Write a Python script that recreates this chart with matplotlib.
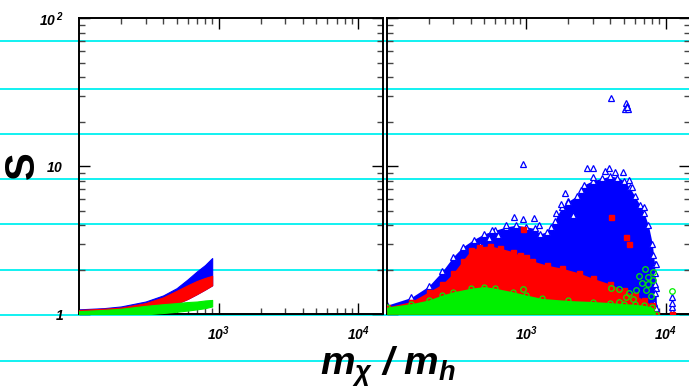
import matplotlib
matplotlib.use("Agg")
import matplotlib.pyplot as plt
from matplotlib.lines import Line2D
from matplotlib.ticker import FixedLocator, NullFormatter

plt.rcParams['font.family'] = ['Liberation Sans', 'DejaVu Sans']
plt.rcParams['mathtext.fontset'] = 'custom'
plt.rcParams['mathtext.rm'] = 'Liberation Sans:bold:italic'
plt.rcParams['mathtext.it'] = 'Liberation Sans:bold:italic'
plt.rcParams['mathtext.bf'] = 'Liberation Sans:bold:italic'

# ---------------- data: left panel (dense bands) ----------------
left_x = [100, 150, 200, 300, 400, 500, 600, 700, 800, 900]
left_blue_top = [1.08, 1.10, 1.13, 1.22, 1.34, 1.50, 1.72, 1.95, 2.15, 2.40]
left_red_top = [1.07, 1.09, 1.11, 1.19, 1.30, 1.44, 1.57, 1.68, 1.76, 1.82]
left_red_bottom = [1.0, 1.0, 1.0, 1.0, 1.05, 1.18, 1.27, 1.37, 1.47, 1.57]
left_green_top = [1.05, 1.07, 1.09, 1.14, 1.17, 1.19, 1.21, 1.22, 1.24, 1.25]
left_green_bottom = [1.0, 1.0, 1.0, 1.0, 1.02, 1.04, 1.06, 1.08, 1.10, 1.13]

# ---------------- data: right panel (dense clouds + edges) ----------------
blue_x = [100, 150, 200, 250, 300, 350, 420, 500, 600, 720, 850, 1000, 1150,
          1250, 1400, 1600, 1800, 2000, 2300, 2600, 3000, 3500, 4000, 4500,
          5000, 5500, 6000, 6500, 7000, 7500, 8000, 8300, 8500, 8600]
blue_top = [1.15, 1.3, 1.55, 1.95, 2.45, 2.85, 3.2, 3.5, 3.7, 3.9, 4.0, 3.9,
            3.8, 3.5, 3.6, 4.3, 5.3, 5.8, 6.3, 7.5, 8.0, 8.3, 8.6, 8.4, 8.0,
            7.2, 6.3, 5.5, 4.8, 4.0, 3.0, 2.2, 1.5, 1.0]

red_x = [100, 150, 200, 250, 300, 350, 400, 460, 550, 650, 800, 900, 1000,
         1100, 1400, 1800, 2400, 3000, 4000, 5000, 6000, 7000, 8000, 8500]
red_top = [1.12, 1.22, 1.42, 1.6, 1.9, 2.3, 2.7, 2.86, 2.9, 2.8, 2.65, 2.5,
           2.45, 2.3, 2.15, 2.05, 1.9, 1.75, 1.6, 1.45, 1.35, 1.25, 1.15, 1.0]

green_x = [100, 150, 200, 250, 300, 400, 500, 600, 800, 1000, 1300, 2000,
           3000, 4000, 5000, 6000, 7000, 8000, 8500]
green_top = [1.12, 1.18, 1.25, 1.35, 1.42, 1.5, 1.54, 1.5, 1.42, 1.35, 1.28,
             1.24, 1.22, 1.2, 1.18, 1.17, 1.15, 1.12, 1.0]

# individual blue triangles (edge of cloud and outliers)
tri_x = [240, 291, 352, 416, 464, 540, 570, 625, 710, 815, 955, 1140, 1240,
         1510, 1640, 1780, 1880, 1980, 2150, 2470, 2710, 3000, 3030, 3680,
         3930, 4330, 4940, 5450, 5760, 7000,
         955, 4050, 5200, 5300, 5100, 5400, 5250,
         8200, 8300, 8400, 8300, 8500, 8100, 8450,
         11100, 11100, 11100, 11100]
tri_y = [1.5, 1.75, 2.27, 2.65, 2.94, 3.3, 3.7, 3.43, 4.0, 4.57, 4.4, 4.5,
         4.0, 3.9, 4.8, 5.6, 6.56, 5.77, 4.7, 6.9, 9.8, 8.5, 9.8, 9.35,
         9.7, 9.2, 9.2, 8.1, 7.3, 5.3,
         10.4, 28.8, 26.8, 25.5, 24.5, 24.3, 25.0,
         1.2, 1.4, 1.6, 1.9, 2.2, 2.5, 1.1,
         1.05, 1.12, 1.2, 1.3]

# individual red squares
sq_x = [955, 4050, 5180, 5450, 11100]
sq_y = [3.75, 4.52, 3.34, 3.0, 1.0]

# individual green circles
circ_x = [955, 4050, 4640, 4640, 5180, 5450, 5800, 6100, 6450, 6700, 7110,
          7200, 7400, 7500, 7800, 8100, 8100, 11100]
circ_y = [1.48, 1.5, 1.48, 1.22, 1.31, 1.39, 1.26, 1.45, 1.81, 1.62, 2.01,
          1.46, 1.78, 1.61, 1.32, 1.92, 1.7, 1.44]

# axis tick labels
x_major = [1e3, 1e4]
x_labels = [r'$10^{3}$', r'$10^{4}$']
y_major = [1, 10, 100]
y_labels = [r'$1$', r'$10$', r'$10^{\,2}$']

BLUE, RED, GREEN = '#0000ff', '#ff0000', '#00f000'

# ---------------- layout ----------------
W, H = 689, 389
fig = plt.figure(figsize=(W / 100, H / 100), dpi=100)


def px_axes(x0, x1, y0, y1):
    return [x0 / W, 1 - y1 / H, (x1 - x0) / W, (y1 - y0) / H]


# cyan ruled background lines
for ypx in [41.3, 88.7, 134, 179, 224, 270, 315, 360.7]:
    fig.add_artist(Line2D([0, 1], [1 - ypx / H] * 2, transform=fig.transFigure,
                          color='#00f0f0', lw=1.3, zorder=-5))

axL = fig.add_axes(px_axes(79, 382.7, 18.3, 314.3))
axR = fig.add_axes(px_axes(386.7, 690.4, 18.3, 314.3))

for ax in (axL, axR):
    ax.set_facecolor('none')
    ax.set_xscale('log')
    ax.set_yscale('log')
    ax.set_xlim(100, 15000)
    ax.set_ylim(1, 100)
    ax.xaxis.set_major_locator(FixedLocator(x_major))
    ax.xaxis.set_minor_locator(FixedLocator(
        [m * d for d in (100, 1000) for m in range(2, 10)]))
    ax.yaxis.set_major_locator(FixedLocator(y_major))
    ax.yaxis.set_minor_locator(FixedLocator(
        [m * d for d in (1, 10) for m in range(2, 10)]))
    ax.xaxis.set_minor_formatter(NullFormatter())
    ax.yaxis.set_minor_formatter(NullFormatter())
    ax.set_xticklabels(x_labels)
    ax.tick_params(which='both', direction='in', top=True, right=True,
                   labelsize=10)
    ax.tick_params(which='major', length=8, width=1.0, color='black')
    ax.tick_params(which='minor', length=4.5, width=1.0, color='#444444')
    ax.tick_params(axis='x', which='major', pad=7)
    for sp in ax.spines.values():
        sp.set_linewidth(1.4)
        sp.set_color('black')

axL.set_yticklabels(y_labels)
axL.tick_params(axis='y', which='major', pad=11)
axR.set_yticklabels([])

# ---------------- left panel ----------------
axL.fill_between(left_x, left_red_bottom, left_blue_top, color=BLUE, lw=0.8,
                 edgecolor=BLUE, zorder=2)
axL.fill_between(left_x, left_red_bottom, left_red_top, color=RED, lw=0.8,
                 edgecolor=RED, zorder=3)
axL.fill_between(left_x, left_green_bottom, left_green_top, color=GREEN,
                 lw=0.8, edgecolor=GREEN, zorder=4)

# ---------------- right panel ----------------
axR.fill_between(blue_x, 1, blue_top, color=BLUE, lw=0, zorder=2)
axR.plot(blue_x, blue_top, ls='none', marker='^', ms=4, mfc='white',
         mec=BLUE, mew=0.9, zorder=2.5)
axR.plot(tri_x, tri_y, ls='none', marker='^', ms=4, mfc='white', mec=BLUE,
         mew=0.9, zorder=2.5)
axR.fill_between(red_x, 1, red_top, color=RED, lw=0, zorder=3)
axR.plot(red_x, red_top, ls='none', marker='s', ms=3.6, color=RED, zorder=3)
axR.plot(sq_x, sq_y, ls='none', marker='s', ms=3.6, color=RED, zorder=3.5)
axR.fill_between(green_x, 1, green_top, color=GREEN, lw=0, zorder=4)
axR.plot(green_x, green_top, ls='none', marker='o', ms=3.6, mfc='none',
         mec=GREEN, mew=0.9, zorder=4)
axR.plot(circ_x, circ_y, ls='none', marker='o', ms=4, mfc='none', mec=GREEN,
         mew=0.9, zorder=4.5)

# ---------------- axis titles ----------------
fig.text(23 / W, 1 - 165 / H, 'S', rotation=90, fontsize=30,
         fontweight='bold', ha='center', va='center')
fig.text(388 / W, 1 - 375 / H, r'$m_{\chi}$ / $m_{h}$', fontsize=28,
         fontweight='bold', fontstyle='italic', ha='center', va='baseline')

fig.savefig('out.png', dpi=100)
